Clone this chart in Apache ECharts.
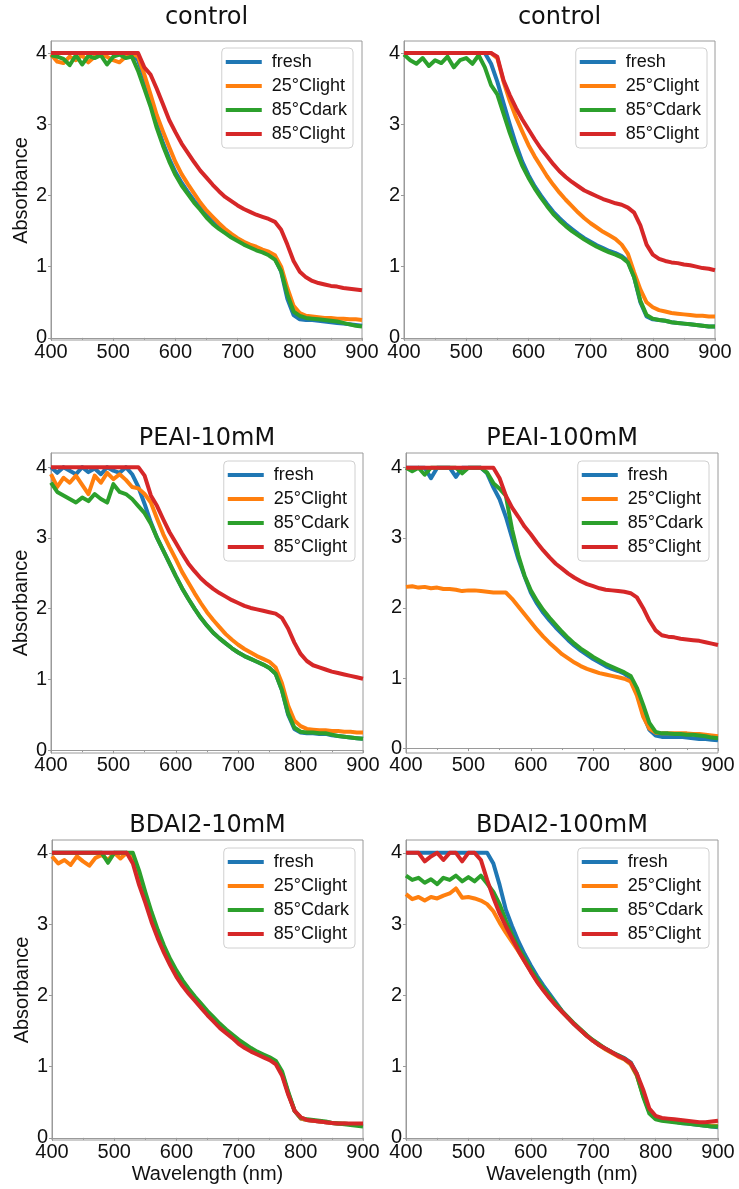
<!DOCTYPE html>
<html>
<head>
<meta charset="utf-8">
<script src="https://cdn.jsdelivr.net/npm/echarts@6/dist/echarts.min.js"></script>
<style>
html,body{margin:0;padding:0;background:#fff;}
#chart{width:739px;height:1189px;}
</style>
</head>
<body>
<div id="chart"></div>
<script>
// ---------- data (wavelength step 10 nm) ----------
const wavelengths = [400,410,420,430,440,450,460,470,480,490,500,510,520,530,540,550,560,570,580,590,600,610,620,630,640,650,660,670,680,690,700,710,720,730,740,750,760,770,780,790,800,810,820,830,840,850,860,870,880,890,900];
const seriesNames = ['fresh','25\u00b0Clight','85\u00b0Cdark','85\u00b0Clight'];
const panelTitles = ['control','control','PEAI-10mM','PEAI-100mM','BDAI2-10mM','BDAI2-100mM'];
const xTicks = [400,500,600,700,800,900];
const yTicks = [0,1,2,3,4];

// control (left)
const c1Fresh   = [4,4,4,4,4,4,4,4,4,4,4,4,4,4,3.9,3.65,3.3,3.0,2.74,2.52,2.33,2.18,2.05,1.93,1.83,1.72,1.63,1.56,1.5,1.44,1.39,1.34,1.3,1.26,1.22,1.18,1.12,0.93,0.55,0.32,0.26,0.25,0.25,0.24,0.23,0.22,0.21,0.2,0.19,0.18,0.17];
const c1Light25 = [3.98,3.88,3.86,3.95,3.9,3.97,3.87,3.95,3.98,3.95,3.9,3.87,3.95,4.0,3.95,3.7,3.42,3.13,2.9,2.68,2.47,2.3,2.16,2.03,1.9,1.79,1.7,1.61,1.53,1.46,1.4,1.35,1.31,1.28,1.24,1.21,1.16,1.0,0.7,0.45,0.35,0.31,0.3,0.29,0.28,0.28,0.27,0.27,0.26,0.26,0.25];
const c1Dark85  = [3.97,3.95,3.92,3.83,3.97,3.84,3.96,3.93,3.97,3.84,3.95,3.98,3.93,3.95,3.75,3.5,3.25,2.95,2.7,2.48,2.29,2.14,2.02,1.9,1.8,1.69,1.6,1.53,1.47,1.41,1.36,1.31,1.27,1.23,1.2,1.16,1.1,0.94,0.61,0.37,0.31,0.28,0.27,0.26,0.25,0.24,0.23,0.21,0.19,0.17,0.16];
const c1Light85 = [4,4,4,4,4,4,4,4,4,4,4,4,4,4,4,3.8,3.7,3.5,3.28,3.06,2.89,2.73,2.6,2.47,2.35,2.25,2.15,2.06,1.98,1.92,1.86,1.81,1.77,1.73,1.7,1.67,1.63,1.52,1.31,1.08,0.93,0.85,0.8,0.77,0.75,0.73,0.72,0.7,0.69,0.68,0.67];

// control (right)
const c2Fresh   = [4,4,4,4,4,4,4,4,4,4,4,4,4,4,3.85,3.6,3.3,3.0,2.72,2.48,2.29,2.13,2.0,1.88,1.77,1.68,1.6,1.53,1.46,1.4,1.35,1.3,1.26,1.22,1.19,1.15,1.08,0.85,0.5,0.3,0.26,0.25,0.24,0.22,0.21,0.2,0.19,0.18,0.17,0.16,0.16];
const c2Light25 = [4,4,4,4,4,4,4,4,4,4,4,4,4,4,4,3.93,3.6,3.33,3.1,2.9,2.71,2.55,2.41,2.27,2.15,2.04,1.94,1.85,1.76,1.68,1.61,1.55,1.49,1.44,1.39,1.31,1.18,0.92,0.68,0.5,0.43,0.39,0.37,0.35,0.34,0.33,0.32,0.31,0.31,0.3,0.3];
const c2Dark85  = [3.98,3.9,3.85,3.93,3.82,3.9,3.86,3.95,3.8,3.9,3.93,3.85,3.97,3.8,3.55,3.42,3.15,2.88,2.64,2.42,2.25,2.1,1.97,1.85,1.74,1.65,1.57,1.5,1.44,1.38,1.33,1.28,1.24,1.2,1.17,1.13,1.06,0.85,0.52,0.32,0.27,0.25,0.24,0.22,0.21,0.2,0.19,0.18,0.17,0.16,0.16];
const c2Light85 = [4,4,4,4,4,4,4,4,4,4,4,4,4,4,4,3.95,3.62,3.41,3.23,3.07,2.93,2.79,2.66,2.55,2.44,2.34,2.26,2.19,2.13,2.07,2.03,1.99,1.95,1.92,1.89,1.87,1.83,1.76,1.58,1.31,1.17,1.11,1.08,1.06,1.05,1.03,1.02,1.0,0.98,0.97,0.95];

// PEAI-10mM
const p10Fresh   = [4.0,3.92,4.0,3.95,3.9,4.0,3.93,3.98,3.9,4.0,3.95,3.92,4.0,3.9,3.72,3.48,3.22,3.0,2.82,2.64,2.46,2.29,2.14,2.0,1.87,1.76,1.66,1.58,1.51,1.44,1.38,1.33,1.29,1.25,1.21,1.16,1.08,0.85,0.5,0.3,0.25,0.24,0.24,0.23,0.23,0.21,0.2,0.19,0.18,0.17,0.16];
const p10Light25 = [3.9,3.72,3.85,3.78,3.88,3.75,3.62,3.88,3.78,3.92,3.83,3.9,3.82,3.72,3.7,3.62,3.5,3.27,3.05,2.87,2.7,2.52,2.37,2.22,2.08,1.95,1.84,1.74,1.64,1.56,1.49,1.43,1.38,1.33,1.29,1.25,1.17,0.95,0.63,0.42,0.34,0.3,0.29,0.28,0.28,0.27,0.27,0.26,0.26,0.25,0.25];
const p10Dark85  = [3.78,3.65,3.6,3.55,3.5,3.57,3.52,3.62,3.55,3.5,3.76,3.65,3.62,3.55,3.45,3.35,3.2,3.0,2.82,2.64,2.46,2.29,2.14,2.0,1.87,1.76,1.66,1.58,1.51,1.44,1.38,1.33,1.29,1.25,1.21,1.16,1.08,0.85,0.52,0.32,0.26,0.25,0.25,0.24,0.24,0.22,0.2,0.19,0.18,0.17,0.16];
const p10Light85 = [4,4,4,4,4,4,4,4,4,4,4,4,4,4,4,3.88,3.6,3.45,3.26,3.08,2.93,2.78,2.64,2.53,2.43,2.35,2.28,2.22,2.17,2.12,2.08,2.04,2.01,1.99,1.97,1.95,1.93,1.87,1.72,1.52,1.36,1.26,1.2,1.17,1.14,1.11,1.09,1.07,1.05,1.03,1.01];

// PEAI-100mM
const p100Fresh   = [4,4,4,4,3.85,4,4,4,3.87,4,4,4,4,3.92,3.72,3.55,3.3,3.0,2.7,2.45,2.22,2.06,1.93,1.82,1.72,1.63,1.54,1.46,1.39,1.33,1.27,1.22,1.17,1.13,1.1,1.06,1.0,0.8,0.48,0.26,0.18,0.16,0.16,0.16,0.16,0.15,0.14,0.13,0.13,0.12,0.11];
const p100Light25 = [2.3,2.31,2.29,2.3,2.28,2.29,2.27,2.27,2.26,2.24,2.25,2.25,2.24,2.23,2.22,2.22,2.22,2.13,2.02,1.91,1.8,1.69,1.59,1.5,1.42,1.34,1.28,1.22,1.17,1.13,1.1,1.07,1.05,1.03,1.01,0.99,0.95,0.75,0.45,0.28,0.22,0.21,0.21,0.21,0.21,0.21,0.2,0.2,0.19,0.18,0.17];
const p100Dark85  = [4,3.95,4,3.9,4,4,4,4,4,3.92,4,4,4,3.93,3.78,3.7,3.6,3.12,2.75,2.46,2.25,2.1,1.97,1.86,1.76,1.66,1.57,1.49,1.42,1.36,1.3,1.25,1.2,1.16,1.12,1.08,1.03,0.86,0.62,0.36,0.23,0.21,0.21,0.2,0.2,0.19,0.19,0.18,0.17,0.15,0.14];
const p100Light85 = [4,4,4,4,4,4,4,4,4,4,4,4,4,4,4,3.85,3.6,3.43,3.3,3.16,3.05,2.93,2.82,2.72,2.63,2.56,2.49,2.43,2.38,2.34,2.31,2.28,2.26,2.25,2.24,2.23,2.21,2.15,2.0,1.82,1.68,1.61,1.59,1.58,1.56,1.55,1.54,1.53,1.51,1.49,1.47];

// BDAI2-10mM
const b10Fresh   = [4,4,4,4,4,4,4,4,4,4,4,4,4,3.95,3.65,3.38,3.1,2.86,2.65,2.47,2.3,2.17,2.05,1.95,1.85,1.75,1.66,1.57,1.5,1.43,1.35,1.29,1.24,1.19,1.15,1.11,1.05,0.9,0.62,0.38,0.27,0.25,0.24,0.23,0.22,0.21,0.2,0.2,0.19,0.19,0.19];
const b10Light25 = [3.95,3.85,3.9,3.83,3.95,3.88,3.82,3.93,3.97,3.9,4.0,3.92,4.0,3.95,3.65,3.38,3.1,2.86,2.65,2.47,2.3,2.17,2.05,1.95,1.85,1.75,1.66,1.57,1.5,1.43,1.35,1.29,1.24,1.19,1.15,1.11,1.05,0.9,0.62,0.38,0.27,0.25,0.24,0.23,0.22,0.21,0.2,0.2,0.19,0.19,0.19];
const b10Dark85  = [4,4,4,4,4,4,4,4,4,3.86,4,4,4,4,3.75,3.45,3.17,2.92,2.7,2.51,2.35,2.21,2.09,1.98,1.88,1.78,1.69,1.6,1.52,1.45,1.38,1.32,1.26,1.21,1.17,1.13,1.08,0.93,0.64,0.38,0.28,0.26,0.25,0.24,0.23,0.21,0.2,0.19,0.18,0.17,0.16];
const b10Light85 = [4,4,4,4,4,4,4,4,4,4,4,4,4,3.85,3.55,3.3,3.03,2.8,2.6,2.42,2.26,2.13,2.02,1.92,1.82,1.72,1.63,1.54,1.47,1.4,1.32,1.26,1.21,1.17,1.13,1.09,1.03,0.87,0.6,0.38,0.29,0.25,0.24,0.23,0.22,0.21,0.2,0.2,0.2,0.2,0.2];

// BDAI2-100mM
const b100Fresh   = [4,4,4,4,4,4,4,4,4,4,4,4,4,4,3.85,3.55,3.2,2.97,2.76,2.58,2.42,2.27,2.14,2.02,1.9,1.78,1.68,1.59,1.51,1.43,1.36,1.3,1.25,1.2,1.16,1.12,1.06,0.9,0.6,0.37,0.28,0.25,0.24,0.23,0.21,0.2,0.19,0.18,0.17,0.16,0.15];
const b100Light25 = [3.42,3.35,3.38,3.33,3.38,3.36,3.4,3.43,3.5,3.37,3.38,3.36,3.33,3.28,3.18,3.02,2.88,2.75,2.62,2.48,2.34,2.2,2.08,1.97,1.87,1.77,1.68,1.59,1.51,1.43,1.36,1.3,1.24,1.19,1.14,1.1,1.03,0.87,0.6,0.37,0.28,0.25,0.24,0.23,0.22,0.21,0.2,0.19,0.18,0.17,0.17];
const b100Dark85  = [3.68,3.62,3.65,3.58,3.63,3.56,3.65,3.62,3.68,3.6,3.66,3.6,3.68,3.57,3.45,3.28,3.05,2.85,2.67,2.52,2.37,2.23,2.1,1.99,1.88,1.78,1.69,1.6,1.52,1.44,1.37,1.31,1.25,1.2,1.16,1.11,1.05,0.88,0.58,0.34,0.26,0.24,0.23,0.22,0.21,0.2,0.19,0.18,0.17,0.16,0.16];
const b100Light85 = [4,4,4,3.88,3.95,4,3.9,4,4,3.88,4,4,3.9,3.62,3.37,3.15,2.97,2.8,2.63,2.48,2.33,2.19,2.07,1.96,1.86,1.77,1.68,1.59,1.51,1.43,1.36,1.3,1.25,1.2,1.15,1.11,1.05,0.9,0.68,0.41,0.31,0.28,0.27,0.26,0.25,0.24,0.23,0.22,0.22,0.23,0.24];

const panelData = [
  [c1Fresh, c1Light25, c1Dark85, c1Light85],
  [c2Fresh, c2Light25, c2Dark85, c2Light85],
  [p10Fresh, p10Light25, p10Dark85, p10Light85],
  [p100Fresh, p100Light25, p100Dark85, p100Light85],
  [b10Fresh, b10Light25, b10Dark85, b10Light85],
  [b100Fresh, b100Light25, b100Dark85, b100Light85]
];

// ---------- layout / style ----------
const colors = ['#1f77b4','#ff7f0e','#2ca02c','#d62728'];
const layout = [
  {left:51, top:41,  width:311, height:299, yMin:-0.03, yMax:4.17, titleTop:6,   legendRight:386, legendTop:48,  yName:true,  xName:false},
  {left:404,top:41,  width:311, height:299, yMin:-0.03, yMax:4.17, titleTop:6,   legendRight:32,  legendTop:48,  yName:false, xName:false},
  {left:51, top:453, width:312, height:300, yMin:-0.04, yMax:4.20, titleTop:427, legendRight:384, legendTop:461, yName:true,  xName:false},
  {left:406,top:453, width:312, height:300, yMin:-0.07, yMax:4.21, titleTop:427, legendRight:30,  legendTop:461, yName:false, xName:false},
  {left:52, top:840, width:311, height:300, yMin:-0.03, yMax:4.18, titleTop:814, legendRight:384, legendTop:848, yName:true,  xName:true},
  {left:406,top:840, width:312, height:300, yMin:-0.03, yMax:4.18, titleTop:814, legendRight:30,  legendTop:848, yName:false, xName:true}
];
const tickFont = 'Liberation Sans, Arial, sans-serif';
const titleFont = 'DejaVu Sans, sans-serif';
const frameColor = '#9a9a9a';

const option = {
  animation:false,
  backgroundColor:'#ffffff',
  title:[], grid:[], xAxis:[], yAxis:[], legend:[], series:[]
};

layout.forEach((L, i) => {
  option.title.push({
    text: panelTitles[i],
    left: L.left + L.width/2,
    top: L.titleTop,
    textAlign:'center',
    padding:0,
    textStyle:{fontFamily:titleFont, fontSize:24, fontWeight:'normal', color:'#111'}
  });
  option.grid.push({
    left:L.left, top:L.top, width:L.width, height:L.height,
    show:true, borderColor:frameColor, borderWidth:1, backgroundColor:'transparent', containLabel:false
  });
  option.xAxis.push({
    type:'value', gridIndex:i, min:400, max:900, interval:100,
    name: L.xName ? 'Wavelength (nm)' : '',
    nameLocation:'middle', nameGap:24,
    nameTextStyle:{fontFamily:tickFont, fontSize:20, color:'#111'},
    axisLine:{show:true, lineStyle:{color:frameColor, width:1}},
    axisTick:{show:true, length:3, lineStyle:{color:frameColor}},
    minorTick:{show:true, splitNumber:2, length:2, lineStyle:{color:frameColor}},
    splitLine:{show:false},
    axisLabel:{fontFamily:tickFont, fontSize:20, color:'#111', margin:2, showMinLabel:true, showMaxLabel:true,
      customValues:xTicks}
  });
  option.yAxis.push({
    type:'value', gridIndex:i, min:L.yMin, max:L.yMax,
    name: L.yName ? 'Absorbance' : '',
    nameLocation:'middle', nameGap:20, nameRotate:90,
    nameTextStyle:{fontFamily:tickFont, fontSize:20, color:'#111'},
    axisLine:{show:true, lineStyle:{color:frameColor, width:1}},
    axisTick:{show:true, length:3, lineStyle:{color:frameColor}, customValues:yTicks},
    splitLine:{show:false},
    axisLabel:{fontFamily:tickFont, fontSize:20, color:'#111', margin:4, customValues:yTicks}
  });
  option.legend.push({
    data: seriesNames.slice(),
    orient:'vertical', right:L.legendRight, top:L.legendTop,
    icon:'rect', itemWidth:36, itemHeight:4, itemGap:6,
    padding:[5,6,5,4],
    backgroundColor:'rgba(255,255,255,0.85)', borderColor:'#d0d0d0', borderWidth:1, borderRadius:4,
    formatter: n => ' ' + n,
    selectedMode:false,
    textStyle:{fontFamily:tickFont, fontSize:18, color:'#111'}
  });
  panelData[i].forEach((arr, k) => {
    option.series.push({
      type:'line', name:seriesNames[k], xAxisIndex:i, yAxisIndex:i,
      data: wavelengths.map((w, j) => [w, arr[j]]),
      showSymbol:false, symbol:'none', silent:true,
      color:colors[k],
      lineStyle:{color:colors[k], width:4, join:'round'},
      clip:true
    });
  });
});

const chart = echarts.init(document.getElementById('chart'), null, {renderer:'canvas'});
chart.setOption(option);
</script>
</body>
</html>
